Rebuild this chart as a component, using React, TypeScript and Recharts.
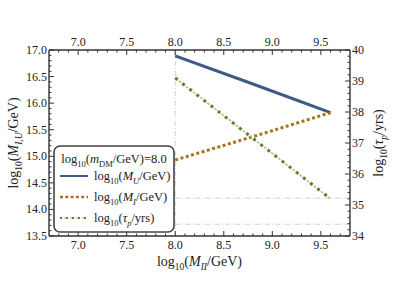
import React from 'react';
import { LineChart, Line, XAxis, YAxis, ReferenceLine, Legend, Label } from 'recharts';

// ---- data ----
const mII = [8.0, 8.8, 9.6];
const logMU = [16.89, 16.36, 15.82];
const logMI = [14.93, 15.37, 15.82];
const logTau = [39.1, 37.15, 35.2];

const mDM = 8.0;
const tauBounds = [35.22, 34.38];

const xMajor = [7.0, 7.5, 8.0, 8.5, 9.0, 9.5];
const yLeftMajor = [13.5, 14.0, 14.5, 15.0, 15.5, 16.0, 16.5, 17.0];
const yRightMajor = [34, 35, 36, 37, 38, 39, 40];
const xDomain = [6.7, 9.8];
const yLeftDomain = [13.5, 17.0];
const yRightDomain = [34, 40];

const range = (a: number, b: number, step: number) => {
  const out: number[] = [];
  const n = Math.round((b - a) / step);
  for (let i = 0; i <= n; i++) out.push(+(a + i * step).toFixed(4));
  return out;
};
const xTicks = range(6.8, 9.7, 0.1);
const yLeftTicks = range(13.5, 17.0, 0.1);
const yRightTicks = range(34, 40, 0.2);

const data = mII.map((x, i) => ({ mII: x, mU: logMU[i], mI: logMI[i], tau: logTau[i] }));

const FONT = '"Liberation Serif", "Times New Roman", serif';
const INK = '#222';
const FRAME = '#333';
const BLUE = '#3f5a85';
const ORANGE = '#a8741f';
const GREEN = '#5d7e2a';
const GREEN_LIGHT = '#a3bb7c';
const REF = '#cfcfcf';

const isMajor = (majors: number[], v: number) => majors.some((m) => Math.abs(m - v) < 1e-6);

const makeTick = (side: 'bottom' | 'top' | 'left' | 'right', majors: number[], fmt: (v: number) => string) =>
  (props: any) => {
    const { x, y, payload } = props;
    const v = payload.value;
    const major = isMajor(majors, v);
    const len = major ? 5 : 2.5;
    let line;
    let label = null;
    const tp = { fontFamily: FONT, fontSize: 12, fill: INK };
    if (side === 'bottom') {
      line = <line x1={x} x2={x} y1={y} y2={y - len} stroke={FRAME} strokeWidth={1} />;
      if (major) label = <text x={x} y={y + 13} textAnchor="middle" {...tp}>{fmt(v)}</text>;
    } else if (side === 'top') {
      line = <line x1={x} x2={x} y1={y} y2={y + len} stroke={FRAME} strokeWidth={1} />;
      if (major) label = <text x={x} y={y - 4} textAnchor="middle" {...tp}>{fmt(v)}</text>;
    } else if (side === 'left') {
      line = <line x1={x} x2={x + len} y1={y} y2={y} stroke={FRAME} strokeWidth={1} />;
      if (major) label = <text x={x - 2} y={y + 4} textAnchor="end" {...tp}>{fmt(v)}</text>;
    } else {
      line = <line x1={x} x2={x - len} y1={y} y2={y} stroke={FRAME} strokeWidth={1} />;
      if (major) label = <text x={x + 2} y={y + 4} textAnchor="start" {...tp}>{fmt(v)}</text>;
    }
    return (
      <g>
        {line}
        {label}
      </g>
    );
  };

const fmt1 = (v: number) => v.toFixed(1);
const fmt0 = (v: number) => v.toFixed(0);

const SUB = { fontSize: 9.5 };

const BottomLabel = (props: any) => {
  const vb = props.viewBox || { x: 49, y: 236, width: 301, height: 50 };
  return (
    <text x={vb.x + vb.width / 2} y={266} textAnchor="middle" fontFamily={FONT} fontSize={14} fill={INK}>
      log<tspan dy={4} {...SUB}>10</tspan>
      <tspan dy={-4}>(</tspan>
      <tspan fontStyle="italic">M</tspan>
      <tspan dy={4} fontStyle="italic" {...SUB}>II</tspan>
      <tspan dy={-4}>/GeV)</tspan>
    </text>
  );
};

const LeftLabel = () => {
  const cy = 143;
  const cx = 18;
  return (
    <text x={cx} y={cy} transform={`rotate(-90, ${cx}, ${cy})`} textAnchor="middle" fontFamily={FONT} fontSize={14} fill={INK}>
      log<tspan dy={4} {...SUB}>10</tspan>
      <tspan dy={-4}>(</tspan>
      <tspan fontStyle="italic">M</tspan>
      <tspan dy={4} fontStyle="italic" {...SUB}>I,U</tspan>
      <tspan dy={-4}>/GeV)</tspan>
    </text>
  );
};

const RightLabel = () => {
  const cy = 143;
  const cx = 383;
  return (
    <text x={cx} y={cy} transform={`rotate(-90, ${cx}, ${cy})`} textAnchor="middle" fontFamily={FONT} fontSize={14} fill={INK}>
      log<tspan dy={4} {...SUB}>10</tspan>
      <tspan dy={-4}>(</tspan>
      <tspan fontStyle="italic">τ</tspan>
      <tspan dy={4} fontStyle="italic" {...SUB}>p</tspan>
      <tspan dy={-4}>/yrs)</tspan>
    </text>
  );
};

const LSUB = { fontSize: 8.5 };

const renderLegend = () => {
  const tp = { fontFamily: FONT, fontSize: 12.5, fill: INK };
  return (
    <svg width={122} height={88} style={{ display: 'block', overflow: 'visible' }}>
      <rect x={1} y={1} width={120} height={86} rx={6} ry={6} fill="#fff" stroke="#444" strokeWidth={1.6} />
      <text x={61} y={18} textAnchor="middle" {...tp}>
        log<tspan dy={3.5} {...LSUB}>10</tspan>
        <tspan dy={-3.5}>(</tspan>
        <tspan fontStyle="italic">m</tspan>
        <tspan dy={3.5} {...LSUB}>DM</tspan>
        <tspan dy={-3.5}>/GeV)={mDM.toFixed(1)}</tspan>
      </text>
      <line x1={7} x2={35} y1={31} y2={31} stroke={BLUE} strokeWidth={2} />
      <text x={41} y={35} {...tp}>
        log<tspan dy={3.5} {...LSUB}>10</tspan>
        <tspan dy={-3.5}>(</tspan>
        <tspan fontStyle="italic">M</tspan>
        <tspan dy={3.5} fontStyle="italic" {...LSUB}>U</tspan>
        <tspan dy={-3.5}>/GeV)</tspan>
      </text>
      <line x1={7} x2={35} y1={52} y2={52} stroke={ORANGE} strokeWidth={2.5} strokeDasharray="3 2.3" />
      <text x={41} y={56} {...tp}>
        log<tspan dy={3.5} {...LSUB}>10</tspan>
        <tspan dy={-3.5}>(</tspan>
        <tspan fontStyle="italic">M</tspan>
        <tspan dy={3.5} fontStyle="italic" {...LSUB}>I</tspan>
        <tspan dy={-3.5}>/GeV)</tspan>
      </text>
      <line x1={7} x2={35} y1={73} y2={73} stroke={GREEN_LIGHT} strokeWidth={1.2} strokeDasharray="3 3" strokeDashoffset={-4} />
      <line x1={7} x2={35} y1={73} y2={73} stroke={GREEN} strokeWidth={2} strokeDasharray="2 4" />
      <text x={41} y={77} {...tp}>
        log<tspan dy={3.5} {...LSUB}>10</tspan>
        <tspan dy={-3.5}>(</tspan>
        <tspan fontStyle="italic">τ</tspan>
        <tspan dy={3.5} fontStyle="italic" {...LSUB}>p</tspan>
        <tspan dy={-3.5}>/yrs)</tspan>
      </text>
    </svg>
  );
};

export default function App() {
  return (
    <div style={{ position: 'absolute', left: 0, top: 0, width: 399, height: 286, background: '#fff' }}>
      <LineChart width={399} height={286} data={data} margin={{ top: 0, right: 0, bottom: 0, left: 0 }}>
        <XAxis
          xAxisId="bottom"
          dataKey="mII"
          type="number"
          orientation="bottom"
          domain={xDomain}
          allowDataOverflow
          ticks={xTicks}
          interval={0}
          height={50}
          tickSize={0}
          tickMargin={0}
          tickLine={false}
          axisLine={{ stroke: FRAME, strokeWidth: 1.4 }}
          tick={makeTick('bottom', xMajor, fmt1)}
        >
          <Label content={BottomLabel} />
        </XAxis>
        <XAxis
          xAxisId="top"
          dataKey="mII"
          type="number"
          orientation="top"
          domain={xDomain}
          allowDataOverflow
          ticks={xTicks}
          interval={0}
          height={50}
          tickSize={0}
          tickMargin={0}
          tickLine={false}
          axisLine={{ stroke: FRAME, strokeWidth: 1.4 }}
          tick={makeTick('top', xMajor, fmt1)}
        />
        <YAxis
          yAxisId="left"
          type="number"
          orientation="left"
          domain={yLeftDomain}
          allowDataOverflow
          ticks={yLeftTicks}
          interval={0}
          width={49}
          tickSize={0}
          tickMargin={0}
          tickLine={false}
          axisLine={{ stroke: FRAME, strokeWidth: 1.4 }}
          tick={makeTick('left', yLeftMajor, fmt1)}
        >
          <Label content={LeftLabel} />
        </YAxis>
        <YAxis
          yAxisId="right"
          type="number"
          orientation="right"
          domain={yRightDomain}
          allowDataOverflow
          ticks={yRightTicks}
          interval={0}
          width={49}
          tickSize={0}
          tickMargin={0}
          tickLine={false}
          axisLine={{ stroke: FRAME, strokeWidth: 1.4 }}
          tick={makeTick('right', yRightMajor, fmt0)}
        >
          <Label content={RightLabel} />
        </YAxis>

        <ReferenceLine
          xAxisId="bottom"
          yAxisId="left"
          segment={[{ x: mDM, y: yLeftDomain[0] }, { x: mDM, y: yLeftDomain[1] }]}
          stroke={REF}
          strokeWidth={1}
          strokeDasharray="5 2 1 2"
        />
        {tauBounds.map((b) => (
          <ReferenceLine
            key={b}
            xAxisId="top"
            yAxisId="right"
            segment={[{ x: mDM, y: b }, { x: xDomain[1], y: b }]}
            stroke={REF}
            strokeWidth={1}
            strokeDasharray="5 2 1 2"
          />
        ))}

        <Line
          xAxisId="bottom"
          yAxisId="left"
          dataKey="mU"
          type="linear"
          stroke={BLUE}
          strokeWidth={3}
          dot={false}
          activeDot={false}
          isAnimationActive={false}
        />
        <Line
          xAxisId="bottom"
          yAxisId="left"
          dataKey="mI"
          type="linear"
          stroke={ORANGE}
          strokeWidth={3}
          strokeDasharray="3 2.5"
          dot={false}
          activeDot={false}
          isAnimationActive={false}
        />
        <Line
          xAxisId="top"
          yAxisId="right"
          dataKey="tau"
          type="linear"
          stroke={GREEN_LIGHT}
          strokeWidth={1.3}
          strokeDasharray="3 6"
          strokeDashoffset={-4.5}
          dot={false}
          activeDot={false}
          isAnimationActive={false}
          legendType="none"
        />
        <Line
          xAxisId="top"
          yAxisId="right"
          dataKey="tau"
          type="linear"
          stroke={GREEN}
          strokeWidth={3}
          strokeDasharray="3 6"
          dot={false}
          activeDot={false}
          isAnimationActive={false}
        />
        <Legend
          layout="vertical"
          align="center"
          verticalAlign="middle"
          content={renderLegend}
          wrapperStyle={{ position: 'absolute', left: 53, top: 145, width: 122, height: 88 }}
        />
      </LineChart>
    </div>
  );
}
